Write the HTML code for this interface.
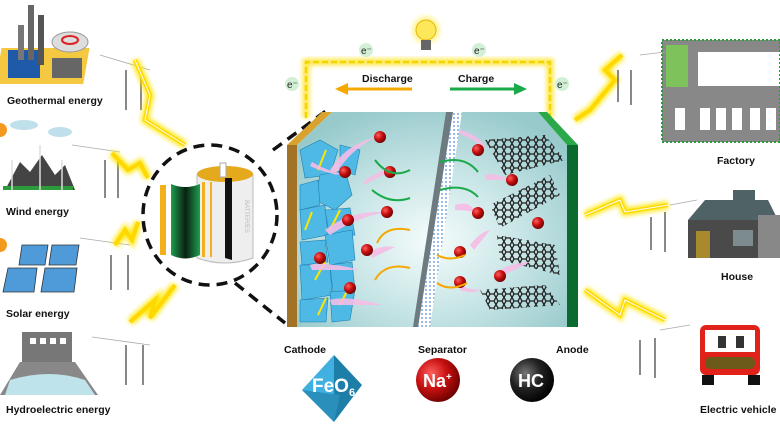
<!DOCTYPE html>
<html><head><meta charset="utf-8"><style>
html,body{margin:0;padding:0;background:#fff;}
svg{display:block;font-family:"Liberation Sans",Arial,sans-serif;}
.lb{font-weight:bold;font-size:10.5px;fill:#111;}
</style></head><body>
<svg width="780" height="424" viewBox="0 0 780 424" xmlns="http://www.w3.org/2000/svg">
<defs>
<radialGradient id="cell" cx="0.5" cy="0.6" r="0.65"><stop offset="0" stop-color="#f6fcfc"/><stop offset="0.55" stop-color="#c4e3e4"/><stop offset="1" stop-color="#98cacc"/></radialGradient>
<radialGradient id="red" cx="0.35" cy="0.35" r="0.7"><stop offset="0" stop-color="#ff6060"/><stop offset="0.5" stop-color="#c81010"/><stop offset="1" stop-color="#6a0000"/></radialGradient>
<radialGradient id="blk" cx="0.35" cy="0.35" r="0.7"><stop offset="0" stop-color="#777"/><stop offset="0.5" stop-color="#222"/><stop offset="1" stop-color="#000"/></radialGradient>
<linearGradient id="grn" x1="0" x2="1"><stop offset="0" stop-color="#1ca04e"/><stop offset="0.5" stop-color="#0b1f12"/><stop offset="1" stop-color="#1ca04e"/></linearGradient>
<pattern id="sep" width="4" height="4" patternUnits="userSpaceOnUse"><rect width="4" height="4" fill="#fff"/><circle cx="2" cy="2" r="1" fill="#7aa8e0"/></pattern>
<pattern id="hex" width="8" height="7" patternUnits="userSpaceOnUse"><path d="M0 3.5 L2 0 L6 0 L8 3.5 L6 7 L2 7Z" fill="none" stroke="#222" stroke-width="1.3"/></pattern>
<filter id="glow"><feGaussianBlur stdDeviation="2.5"/></filter>
</defs>

<!-- Left sources -->
<g>
 <rect x="10" y="48" width="88" height="36" fill="#f5c842" transform="skewX(-10)"/>
 <rect x="8" y="50" width="32" height="28" fill="#1e5aa8"/>
 <rect x="28" y="5" width="6" height="55" fill="#666"/><rect x="38" y="15" width="6" height="50" fill="#555"/><rect x="18" y="25" width="6" height="35" fill="#777"/>
 <ellipse cx="70" cy="42" rx="18" ry="10" fill="#ddd" stroke="#999"/><ellipse cx="70" cy="40" rx="8" ry="4" fill="none" stroke="#d22" stroke-width="2"/>
 <rect x="52" y="58" width="30" height="20" fill="#666"/>
 <text class="lb" x="7" y="104">Geothermal energy</text>
</g>
<g>
 <ellipse cx="24" cy="125" rx="14" ry="5" fill="#bfe0ea"/><ellipse cx="60" cy="132" rx="12" ry="5" fill="#bfe0ea"/><circle cx="0" cy="130" r="7" fill="#f39a1e"/>
 <path d="M5 190 L20 162 L30 172 L42 155 L55 175 L65 165 L75 190Z" fill="#444"/>
 <rect x="3" y="186" width="70" height="4" fill="#2a9a3a"/>
 <g stroke="#ddd" stroke-width="1.5"><line x1="40" y1="145" x2="40" y2="190"/><line x1="62" y1="160" x2="62" y2="190"/><line x1="12" y1="160" x2="12" y2="190"/></g>
 <text class="lb" x="6" y="215">Wind energy</text>
</g>
<g>
 <circle cx="0" cy="245" r="7" fill="#f39a1e"/>
 <g fill="#4f9ad8" stroke="#333" stroke-width="0.8"><path d="M22 245 L48 245 L45 265 L19 265Z"/><path d="M52 245 L79 245 L76 265 L49 265Z"/><path d="M8 268 L37 268 L34 292 L3 292Z"/><path d="M45 268 L77 268 L74 292 L41 292Z"/></g>
 <text class="lb" x="6" y="317">Solar energy</text>
</g>
<g>
 <rect x="22" y="332" width="50" height="35" fill="#777"/>
 <path d="M0 395 L20 362 L75 362 L98 395Z" fill="#888"/>
 <path d="M10 380 Q50 368 85 380 L95 395 L5 395Z" fill="#bfe3ea"/>
 <g fill="#fff"><rect x="30" y="338" width="6" height="6"/><rect x="40" y="338" width="6" height="6"/><rect x="50" y="338" width="6" height="6"/><rect x="60" y="338" width="6" height="6"/></g>
 <text class="lb" x="6" y="413">Hydroelectric energy</text>
</g>

<!-- pylons left -->
<g stroke="#888" stroke-width="2" fill="none">
 <line x1="126" y1="70" x2="126" y2="110"/><line x1="141" y1="70" x2="141" y2="110"/>
 <line x1="105" y1="160" x2="105" y2="198"/><line x1="118" y1="160" x2="118" y2="198"/>
 <line x1="111" y1="255" x2="111" y2="290"/><line x1="128" y1="255" x2="128" y2="290"/>
 <line x1="126" y1="345" x2="126" y2="385"/><line x1="143" y1="345" x2="143" y2="385"/>
</g>
<g stroke="#aaa" stroke-width="0.8"><line x1="100" y1="55" x2="150" y2="70"/><line x1="72" y1="145" x2="120" y2="152"/><line x1="80" y1="238" x2="130" y2="245"/><line x1="92" y1="337" x2="150" y2="345"/></g>

<!-- lightning bolts -->
<g fill="none" stroke-linejoin="miter">
 <g stroke="#ffe600" stroke-width="8" filter="url(#glow)" opacity="0.9">
  <path d="M135 60 L150 95 L145 120 L185 145"/><path d="M112 153 L128 170 L140 163 L148 178"/><path d="M115 245 L125 230 L132 240 L138 222"/><path d="M130 322 L155 300 L150 318 L175 285"/>
  <path d="M622 55 L605 70 L615 80 L590 110 L575 120"/><path d="M585 215 L620 200 L625 212 L668 205"/><path d="M585 290 L620 315 L625 300 L665 320"/>
 </g>
 <g stroke="#ffd800" stroke-width="4">
  <path d="M135 60 L150 95 L145 120 L185 145"/><path d="M112 153 L128 170 L140 163 L148 178"/><path d="M115 245 L125 230 L132 240 L138 222"/><path d="M130 322 L155 300 L150 318 L175 285"/>
  <path d="M622 55 L605 70 L615 80 L590 110 L575 120"/><path d="M585 215 L620 200 L625 212 L668 205"/><path d="M585 290 L620 315 L625 300 L665 320"/>
 </g>
 <g stroke="#fff" stroke-width="1">
  <path d="M135 60 L150 95 L145 120 L185 145"/><path d="M585 215 L620 200 L625 212 L668 205"/><path d="M585 290 L620 315 L625 300 L665 320"/>
 </g>
</g>

<!-- zoom circle -->
<ellipse cx="210" cy="215" rx="67" ry="70" fill="none" stroke="#111" stroke-width="3.5" stroke-dasharray="11 7"/>
<line x1="273" y1="150" x2="330" y2="108" stroke="#111" stroke-width="3.5" stroke-dasharray="11 7"/>
<line x1="235" y1="283" x2="285" y2="323" stroke="#111" stroke-width="3.5" stroke-dasharray="11 7"/>
<!-- cylinder -->
<path d="M197 175 L197 258 Q225 268 253 258 L253 175Z" fill="#eee" stroke="#bbb"/>
<ellipse cx="225" cy="174" rx="28" ry="8" fill="#e5a91e"/>
<rect x="220" y="163" width="6" height="14" fill="#fff" stroke="#aaa"/>
<path d="M225 178 L225 258 L232 260 L232 178Z" fill="#111"/>
<rect x="160" y="185" width="6" height="70" fill="#f2b01c"/><rect x="166" y="185" width="5" height="70" fill="#fff"/>
<path d="M171 184 Q185 190 200 184 L200 255 Q185 262 171 255Z" fill="url(#grn)"/>
<g fill="#f2b01c"><rect x="202" y="182" width="3" height="75"/><rect x="210" y="182" width="2" height="75"/></g>
<text x="245" y="200" transform="rotate(90 245 200)" font-size="6" fill="#bbb">BATTERIES</text>

<!-- circuit -->
<path d="M306 118 L306 62 L550 62 L550 118" fill="none" stroke="#ffe74a" stroke-width="7" filter="url(#glow)"/>
<path d="M306 118 L306 62 L550 62 L550 118" fill="none" stroke="#f2d400" stroke-width="2.5" stroke-dasharray="6 3"/>
<circle cx="426" cy="30" r="14" fill="#fff59a" filter="url(#glow)"/>
<circle cx="426" cy="30" r="10" fill="#fde85a" stroke="#e8b400"/>
<rect x="421" y="40" width="10" height="10" fill="#666"/>
<g font-size="10" fill="#222"><circle cx="366" cy="50" r="7" fill="#d3f0d7"/><text x="361" y="54">e⁻</text>
<circle cx="479" cy="50" r="7" fill="#d3f0d7"/><text x="474" y="54">e⁻</text>
<circle cx="292" cy="84" r="7" fill="#d3f0d7"/><text x="287" y="88">e⁻</text>
<circle cx="562" cy="84" r="7" fill="#d3f0d7"/><text x="557" y="88">e⁻</text></g>
<text class="lb" x="362" y="82">Discharge</text>
<text class="lb" x="458" y="82">Charge</text>
<line x1="412" y1="89" x2="345" y2="89" stroke="#f5a800" stroke-width="3"/><path d="M335 89 L348 83 L348 95Z" fill="#f5a800"/>
<line x1="450" y1="89" x2="515" y2="89" stroke="#1aaa4a" stroke-width="3"/><path d="M527 89 L514 83 L514 95Z" fill="#1aaa4a"/>

<!-- cell -->
<path d="M297 145 L332 112 L538 112 L567 145 L567 327 L297 327Z" fill="url(#cell)"/>
<path d="M287 145 L322 112 L332 112 L297 145Z" fill="#d9a22c"/>
<rect x="287" y="145" width="10" height="182" fill="#a27327"/>
<path d="M538 112 L547 112 L578 145 L567 145Z" fill="#2aa84a"/>
<rect x="567" y="145" width="11" height="182" fill="#0b6b2e"/>
<path d="M418 327 L453 112 L462 112 L430 327Z" fill="url(#sep)"/>
<path d="M413 327 L446 112 L453 112 L418 327Z" fill="#6d7b80"/>
<!-- cathode crystals -->
<g fill="#4fb9e6" stroke="#1f7fb0" stroke-width="0.6">
 <path d="M300 150 L320 140 L338 150 L330 175 L305 178Z"/><path d="M320 175 L345 170 L352 195 L335 210 L315 200Z"/>
 <path d="M300 185 L318 180 L320 205 L300 210Z"/>
 <path d="M300 210 L325 205 L328 235 L302 240Z"/><path d="M325 210 L350 208 L355 235 L330 238Z"/><path d="M325 235 L352 230 L355 260 L330 265Z"/>
 <path d="M300 242 L325 240 L328 262 L302 265Z"/>
 <path d="M300 265 L330 265 L332 295 L302 300Z"/><path d="M330 265 L352 262 L355 290 L333 292Z"/><path d="M330 292 L355 290 L350 320 L332 322Z"/><path d="M300 300 L328 298 L326 322 L300 322Z"/><path d="M340 145 L360 150 L355 175 L340 170Z"/>
</g>
<g stroke="#ffe600" stroke-width="2"><line x1="318" y1="170" x2="326" y2="150"/><line x1="330" y1="230" x2="340" y2="210"/><line x1="315" y1="280" x2="325" y2="262"/><line x1="340" y1="305" x2="350" y2="285"/><line x1="305" y1="230" x2="312" y2="212"/><line x1="318" y1="315" x2="326" y2="298"/></g>
<!-- anode graphene -->
<path d="M485 140 L545 135 L565 160 L505 175 Z" fill="url(#hex)"/>
<path d="M490 205 L550 175 L560 195 L500 228 Z" fill="url(#hex)"/>
<path d="M497 235 L555 245 L560 275 L500 260 Z" fill="url(#hex)"/>
<path d="M480 290 L545 285 L560 305 L490 310 Z" fill="url(#hex)"/>
<!-- ions with trails -->
<g fill="#f6bde6" opacity="0.9">
 <path d="M330 170 Q345 145 376 137 Q350 150 335 175Z"/><path d="M310 166 Q330 175 345 175 Q325 170 312 162Z"/>
 <path d="M365 180 Q390 165 392 170 Q375 180 363 185Z"/><path d="M325 230 Q350 210 386 212 Q355 218 330 235Z"/>
 <path d="M370 252 Q380 245 395 247 Q385 252 372 258Z"/><path d="M310 265 Q330 262 360 270 Q335 270 312 270Z"/>
 <path d="M330 300 Q345 295 383 305 Q355 305 332 305Z"/><path d="M460 130 Q480 135 487 150 Q475 140 460 134Z"/>
 <path d="M485 175 Q495 172 510 180 Q495 180 486 180Z"/><path d="M455 205 Q470 200 475 212 Q465 210 455 210Z"/>
 <path d="M470 245 Q480 232 490 230 Q482 240 474 250Z"/><path d="M460 285 Q470 290 482 290 Q470 294 460 290Z"/><path d="M500 270 Q515 262 530 262 Q515 270 502 276Z"/>
</g>
<g fill="url(#red)">
 <circle cx="380" cy="137" r="6"/><circle cx="345" cy="172" r="6"/><circle cx="390" cy="172" r="6"/>
 <circle cx="387" cy="212" r="6"/><circle cx="348" cy="220" r="6"/><circle cx="367" cy="250" r="6"/>
 <circle cx="320" cy="258" r="6"/><circle cx="350" cy="288" r="6"/><circle cx="478" cy="150" r="6"/>
 <circle cx="512" cy="180" r="6"/><circle cx="478" cy="213" r="6"/><circle cx="538" cy="223" r="6"/>
 <circle cx="460" cy="252" r="6"/><circle cx="460" cy="282" r="6"/><circle cx="500" cy="276" r="6"/>
</g>
<g fill="none" stroke-width="2">
 <path d="M375 160 Q390 180 410 170" stroke="#1aaa4a"/><path d="M372 190 Q390 205 410 198" stroke="#1aaa4a"/>
 <path d="M440 162 Q465 155 478 172" stroke="#1aaa4a"/><path d="M440 190 Q465 183 478 197" stroke="#1aaa4a"/>
 <path d="M410 230 Q385 225 377 243" stroke="#f5a800"/><path d="M410 268 Q385 262 375 280" stroke="#f5a800"/>
 <path d="M437 255 Q450 262 465 255" stroke="#f5a800"/><path d="M437 283 Q450 292 467 283" stroke="#f5a800"/>
</g>

<!-- legend -->
<text class="lb" x="284" y="353">Cathode</text>
<text class="lb" x="418" y="353">Separator</text>
<text class="lb" x="556" y="353">Anode</text>
<path d="M334 355 L302 390 L334 422Z" fill="#3fb0e0"/><path d="M334 355 L362 385 L334 422Z" fill="#1d7ea8"/>
<path d="M302 390 L340 395 L334 422Z" fill="#2a8fba"/>
<text x="312" y="392" font-size="19" font-weight="bold" fill="#fff">FeO<tspan font-size="11" dy="4">6</tspan></text>
<circle cx="438" cy="380" r="22" fill="url(#red)"/>
<text x="423" y="387" font-size="18" font-weight="bold" fill="#fff">Na<tspan font-size="10" dy="-7">+</tspan></text>
<circle cx="532" cy="380" r="22" fill="url(#blk)"/>
<text x="518" y="387" font-size="18" font-weight="bold" fill="#fff">HC</text>

<!-- right side: factory -->
<rect x="662" y="40" width="118" height="102" fill="#888"/>
<rect x="666" y="45" width="22" height="42" fill="#7dc25a"/>
<rect x="698" y="52" width="82" height="34" fill="#fff"/>
<g fill="#fff"><rect x="675" y="108" width="10" height="22"/><rect x="700" y="108" width="10" height="22"/><rect x="716" y="108" width="10" height="22"/><rect x="732" y="108" width="10" height="22"/><rect x="750" y="108" width="10" height="22"/><rect x="766" y="108" width="10" height="22"/></g>
<rect x="662" y="40" width="118" height="102" fill="none" stroke="#2a9a3a" stroke-width="2" stroke-dasharray="2 2"/>
<text class="lb" x="717" y="164">Factory</text>
<!-- house -->
<path d="M688 220 L705 200 L768 200 L778 220Z" fill="#4f6266"/>
<rect x="733" y="190" width="22" height="12" fill="#4f6266"/>
<rect x="688" y="220" width="70" height="38" fill="#4a4a4a"/>
<rect x="758" y="215" width="22" height="43" fill="#888"/>
<rect x="696" y="231" width="14" height="27" fill="#a8892e"/>
<rect x="733" y="230" width="20" height="16" fill="#7c8b8e"/>
<text class="lb" x="721" y="280">House</text>
<!-- car -->
<rect x="700" y="325" width="60" height="50" rx="6" fill="#e0221a"/>
<rect x="705" y="330" width="50" height="22" fill="#fff"/>
<rect x="718" y="336" width="8" height="12" fill="#333"/><rect x="736" y="336" width="8" height="12" fill="#333"/>
<rect x="705" y="357" width="50" height="12" rx="5" fill="#6b5a1a"/>
<rect x="702" y="375" width="12" height="10" fill="#111"/><rect x="748" y="375" width="12" height="10" fill="#111"/>
<text class="lb" x="700" y="413">Electric vehicle</text>
<!-- right pylons -->
<g stroke="#888" stroke-width="2"><line x1="618" y1="70" x2="618" y2="102"/><line x1="631" y1="70" x2="631" y2="105"/>
<line x1="651" y1="217" x2="651" y2="250"/><line x1="665" y1="212" x2="665" y2="252"/>
<line x1="640" y1="340" x2="640" y2="375"/><line x1="655" y1="338" x2="655" y2="378"/></g>
<g stroke="#aaa" stroke-width="0.8"><line x1="640" y1="55" x2="665" y2="52"/><line x1="670" y1="205" x2="697" y2="200"/><line x1="660" y1="330" x2="690" y2="325"/></g>
</svg>
</body></html>
